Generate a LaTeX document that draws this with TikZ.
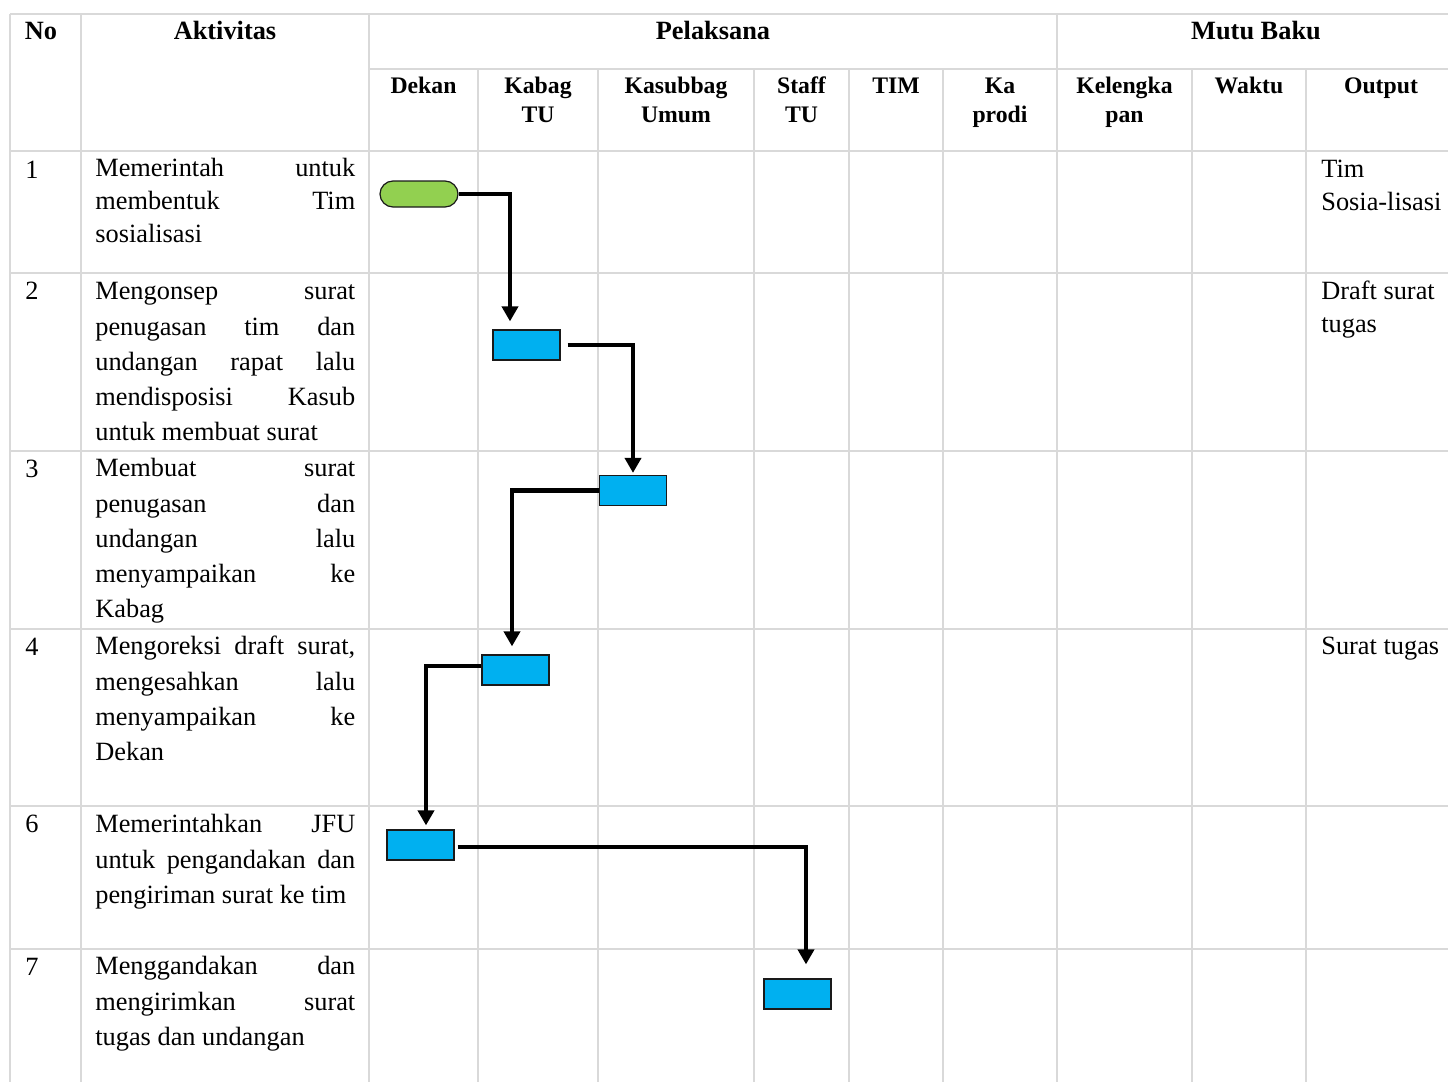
\documentclass[tikz,border=0pt]{standalone}
\usepackage{fontspec}
\setmainfont{Liberation Serif}
\usetikzlibrary{arrows.meta, shapes.misc, positioning, calc}
\definecolor{garisabu}{HTML}{D9D9D9}
\definecolor{hijauawal}{HTML}{92D050}
\definecolor{biruproses}{HTML}{00B0F0}
\definecolor{garistepi}{HTML}{1A1A1A}
\newcommand{\isifont}{\fontsize{15}{20}\selectfont}
\newcommand{\rapatfont}{\fontsize{15}{18.7}\selectfont}
\newcommand{\kepalafont}{\fontsize{15}{18}\selectfont\bfseries}
\newcommand{\subfont}{\fontsize{13.5}{16.7}\selectfont\bfseries}
\hyphenpenalty=10000

\begin{document}
\begin{tikzpicture}[x=0.02cm, y=-0.02cm,
    garis/.style={draw=garisabu, line width=0.6pt},
    kepala/.style={anchor=base, inner sep=0pt, font=\kepalafont},
    subkepala/.style={anchor=base, inner sep=0pt, font=\subfont, align=center},
    nomor/.style={anchor=base west, inner sep=0pt, font=\isifont},
    aktivitas/.style={anchor=north west, inner sep=0pt, text width=5.2cm, align=justify, font=\isifont},
    keluaran/.style={anchor=north west, inner sep=0pt, align=left, font=\rapatfont},
    mulai/.style={rounded rectangle, draw=garistepi, fill=hijauawal, line width=0.7pt, minimum width=1.56cm, minimum height=0.52cm, inner sep=0pt},
    proses/.style={rectangle, draw=garistepi, fill=biruproses, line width=0.7pt, minimum width=1.34cm, minimum height=0.6cm, inner sep=0pt},
    alur/.style={line width=0.085cm, -{Triangle[width=0.32cm, length=0.3cm]}}]
  \useasboundingbox (0,0) rectangle (1448,1082);

  % Garis tabel
  \draw[garis] (10,14) -- (1448,14);
  \draw[garis] (369,69) -- (1448,69);
  \foreach \y in {151,273,451,629,806,949}
    \draw[garis] (10,\y) -- (1448,\y);
  \foreach \x in {10,81,369,1057}
    \draw[garis] (\x,14) -- (\x,1082);
  \foreach \x in {478,598,754,849,943,1192,1306}
    \draw[garis] (\x,69) -- (\x,1082);

  % Kepala tabel
  \node[kepala] (hno) at (41,39) {No};
  \node[kepala] (hakt) at (225,39) {Aktivitas};
  \node[kepala] (hpel) at (713,39) {Pelaksana};
  \node[kepala] (hmutu) at (1256,39) {Mutu Baku};
  \node[subkepala] (hdekan) at (423.5,93) {Dekan};
  \node[subkepala] (hkabag) at (538,122.5) {Kabag\\TU};
  \node[subkepala] (hkasub) at (676,122.5) {Kasubbag\\Umum};
  \node[subkepala] (hstaff) at (801.5,122.5) {Staff\\TU};
  \node[subkepala] (htim) at (896,93) {TIM};
  \node[subkepala] (hkaprodi) at (1000,122.5) {Ka\\prodi};
  \node[subkepala] (hleng) at (1124.5,122.5) {Kelengka\\pan};
  \node[subkepala] (hwaktu) at (1249,93) {Waktu};
  \node[subkepala] (houtput) at (1381,93) {Output};

  % Nomor baris
  \foreach \n/\y in {1/152,2/273,3/451,4/629,6/806,7/949}
    \node[nomor] (no\n) at (25,\y+26) {\n};

  % Aktivitas
  \node[aktivitas, font=\rapatfont] (akt1) at (95,153) {\strut Memerintah untuk\linebreak membentuk Tim\linebreak sosialisasi};
  \node[aktivitas] (akt2) at (95,275) {\strut Mengonsep surat\linebreak penugasan tim dan\linebreak undangan rapat lalu\linebreak mendisposisi Kasub\linebreak untuk membuat surat};
  \node[aktivitas] (akt3) at (95,452) {\strut Membuat surat\linebreak penugasan dan\linebreak undangan lalu\linebreak menyampaikan ke\linebreak Kabag};
  \node[aktivitas] (akt4) at (95,630) {\strut Mengoreksi draft surat,\linebreak mengesahkan lalu\linebreak menyampaikan ke\linebreak Dekan};
  \node[aktivitas] (akt6) at (95,808) {\strut Memerintahkan JFU\linebreak untuk pengandakan dan\linebreak pengiriman surat ke tim};
  \node[aktivitas] (akt7) at (95,950) {\strut Menggandakan dan\linebreak mengirimkan surat\linebreak tugas dan undangan};

  % Output
  \node[keluaran] (out1) at (1321,154) {\strut Tim\\Sosia-lisasi};
  \node[keluaran] (out2) at (1321,276) {\strut Draft surat\\tugas};
  \node[keluaran] (out4) at (1321,631) {\strut Surat tugas};

  % Simbol alur
  \node[mulai] (awal) at (419,194) {};
  \node[proses] (p2) at (526.5,345) {};
  \node[proses] (p3) at (633,490.5) {};
  \node[proses] (p4) at (515.5,670) {};
  \node[proses] (p6) at (420.5,845) {};
  \node[proses] (p7) at (797.5,994) {};

  % Panah
  \draw[alur, shorten >=0.16cm] (awal.east) -| ([xshift=-0.33cm]p2.north);
  \draw[alur, shorten >=0.04cm] ([xshift=0.14cm]p2.east) -| (p3.north);
  \draw[alur, shorten >=0.16cm] (p3.west) -| ([xshift=-0.07cm]p4.north);
  \draw[alur, shorten >=0.08cm] ([yshift=0.08cm]p4.west) -| ([xshift=0.11cm]p6.north);
  \draw[alur, shorten >=0.28cm] ([xshift=0.06cm, yshift=-0.04cm]p6.east) -| ([xshift=0.17cm]p7.north);
\end{tikzpicture}
\end{document}
